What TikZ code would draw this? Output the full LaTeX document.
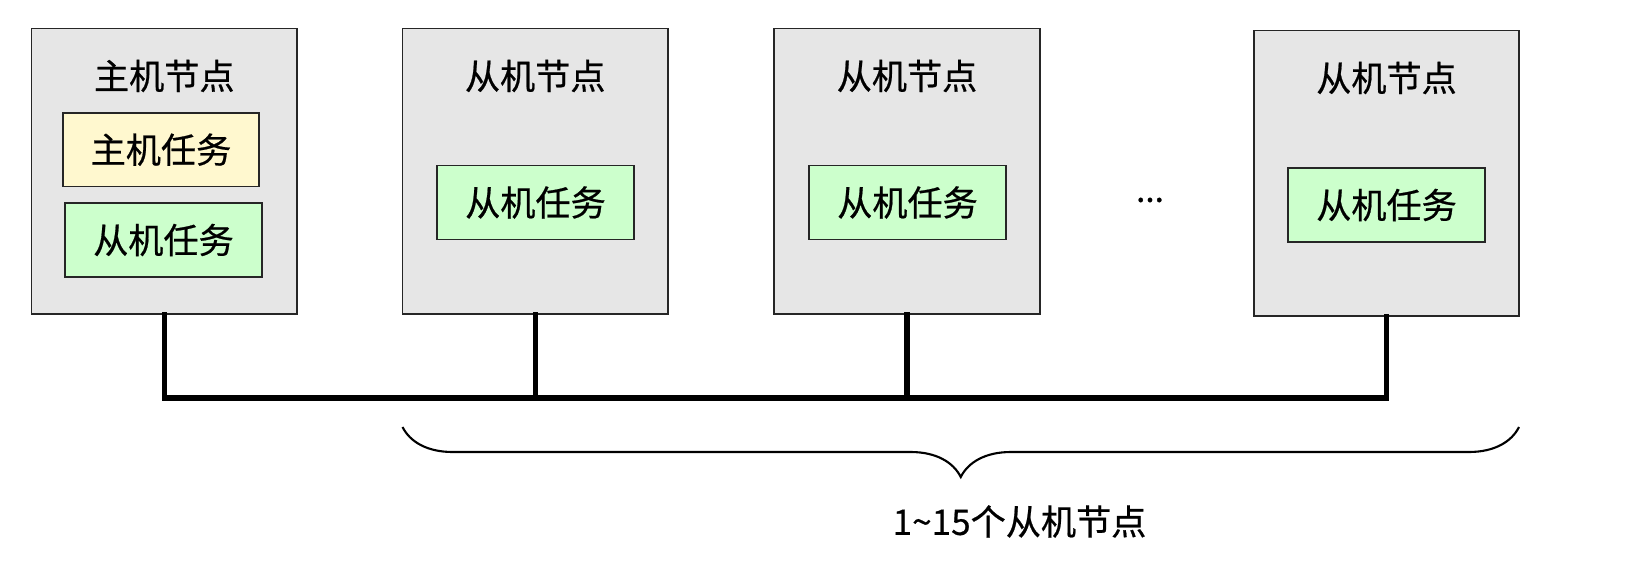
\documentclass[tikz,border=0pt]{standalone}
\usepackage{fontspec}
\newfontfamily\cjk[FakeBold=0.6]{Noto Sans CJK SC}
\usetikzlibrary{positioning,decorations.pathreplacing,calc}
\definecolor{boxgray}{HTML}{E6E6E6}
\definecolor{hostyellow}{HTML}{FFF8CF}
\definecolor{slavegreen}{HTML}{CCFFCC}
\tikzset{
  every picture/.style={line width=0.9pt},
  nodebox/.style={draw=black!85,fill=boxgray,rectangle,minimum width=5.31cm,minimum height=5.71cm,inner sep=0},
  task/.style={draw=black!85,rectangle,minimum width=3.93cm,minimum height=1.48cm,inner sep=0,font=\cjk\fontsize{20}{24}\selectfont},
  hosttask/.style={task,fill=hostyellow},
  slavetask/.style={task,fill=slavegreen},
  lbl/.style={font=\cjk\fontsize{20}{24}\selectfont,inner sep=1pt},
  bus/.style={line width=2.9pt,line cap=rect},
}
\begin{document}
\begin{tikzpicture}[x=0.02cm,y=-0.02cm]
\useasboundingbox (0,0) rectangle (1652,562);
% host node
\node[nodebox] (host) at (164.3,171.2) {};
\node[lbl] (hostT) at (164.3,76) {主机节点};
\node[hosttask] (hostM) at (161,149.7) {主机任务};
\node[slavetask] (hostS) at (163.5,240) {从机任务};
% slave nodes
\node[nodebox] (s1) at (535.2,171.2) {};
\node[lbl] (s1T) at (535.2,76) {从机节点};
\node[slavetask] (s1S) at (535.5,202.5) {从机任务};
\node[nodebox] (s2) at (907,171.2) {};
\node[lbl] (s2T) at (907,76) {从机节点};
\node[slavetask] (s2S) at (907.5,202.5) {从机任务};
\node[lbl,font=\cjk\fontsize{19}{22}\selectfont] (dots) at (1150,200) {...};
\node[nodebox] (s3) at (1386.5,173.3) {};
\node[lbl] (s3T) at (1386.5,78) {从机节点};
\node[slavetask] (s3S) at (1386.5,205) {从机任务};
% bus
\coordinate (busy) at (0,398);
\draw[bus] (host.south) -- (host.south |- busy) -| (s3.south);
\foreach \s in {s1,s2} {\draw[bus] (\s.south) -- (\s.south |- busy);}
% brace
\coordinate (brL) at (402.5,427);
\coordinate (brR) at (1519,427);
\draw[decorate,decoration={brace,mirror,amplitude=1cm},line width=1.2pt] (brL) -- (brR);
\node[lbl] (count) at (1019.5,521.5) {1\textasciitilde15个从机节点};
\end{tikzpicture}
\end{document}
